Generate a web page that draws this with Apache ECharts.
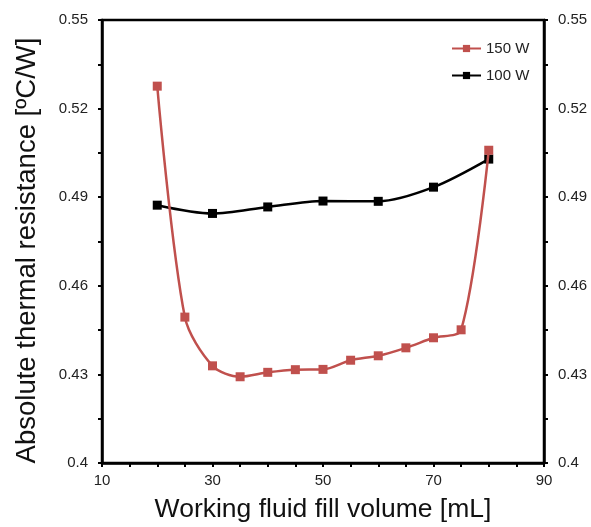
<!DOCTYPE html>
<html><head><meta charset="utf-8">
<script src="https://cdn.jsdelivr.net/npm/echarts@6/dist/echarts.min.js"></script>
<style>html,body{margin:0;padding:0;background:#fff}#c{width:591px;height:527px}</style>
</head><body><div id="c"></div>
<script>
const x150 = [20,25,30,35,40,45,50,55,60,65,70,75,80];
const y150 = [0.5276,0.4494,0.4329,0.4292,0.4307,0.4316,0.4317,0.4348,0.4363,0.4390,0.4424,0.4451,0.5059];
const x100 = [20,30,40,50,60,70,80];
const y100 = [0.4873,0.4845,0.4867,0.4887,0.4886,0.4934,0.5029];
const seriesNames = ['150 W','100 W'];
const xTitle = 'Working fluid fill volume [mL]';
const yTitle = 'Absolute thermal resistance [ºC/W]';

const font = 'Liberation Sans, Arial, sans-serif';
const chart = echarts.init(document.getElementById('c'));
const fmt = v => String(parseFloat(v.toFixed(2)));
const yBase = {
  type:'value', min:0.4, max:0.55, interval:0.03,
  axisLine:{show:true, lineStyle:{color:'#000', width:2.5}},
  axisTick:{show:true, inside:false, length:4, lineStyle:{color:'#000', width:2}},
  minorTick:{show:true, splitNumber:2, length:4, lineStyle:{color:'#000', width:2}},
  splitLine:{show:false},
  axisLabel:{color:'#222', fontFamily:font, fontSize:15, formatter:fmt, margin:14}
};
chart.setOption({
  animation:false,
  backgroundColor:'#fff',
  grid:{left:102, right:47, top:20, bottom:64, outerBoundsMode:'none', containLabel:false,
        show:true, borderColor:'#000', borderWidth:2.5, backgroundColor:'transparent'},
  legend:{
    orient:'vertical', left:446, top:36, itemWidth:29, itemHeight:9, itemGap:12,
    textStyle:{fontFamily:font, fontSize:15, color:'#222'},
    data:seriesNames
  },
  xAxis:{
    type:'value', min:10, max:90, interval:20,
    name:xTitle, nameLocation:'middle', nameGap:33,
    nameTextStyle:{fontFamily:font, fontSize:26.5, color:'#111'},
    axisLine:{show:true, lineStyle:{color:'#000', width:2.5}},
    axisTick:{show:true, inside:false, length:4, lineStyle:{color:'#000', width:2}},
    minorTick:{show:true, splitNumber:4, length:4, lineStyle:{color:'#000', width:2}},
    splitLine:{show:false},
    axisLabel:{color:'#222', fontFamily:font, fontSize:15, margin:10}
  },
  yAxis:[
    Object.assign({}, yBase, {position:'left', name:yTitle, nameLocation:'middle', nameGap:61,
      nameTextStyle:{fontFamily:font, fontSize:27.5, color:'#111', padding:[0,18,0,0]}}),
    Object.assign({}, yBase, {position:'right'})
  ],
  series:[
    {name:seriesNames[0], type:'line', smooth:0.3, data:x150.map((x,i)=>[x,y150[i]]),
     symbol:'rect', symbolSize:9, itemStyle:{color:'#c0504d'}, lineStyle:{color:'#c0504d', width:2.5}, z:3},
    {name:seriesNames[1], type:'line', smooth:0.3, data:x100.map((x,i)=>[x,y100[i]]),
     symbol:'rect', symbolSize:9, itemStyle:{color:'#000'}, lineStyle:{color:'#000', width:2.5}, z:2}
  ]
});
</script></body></html>
